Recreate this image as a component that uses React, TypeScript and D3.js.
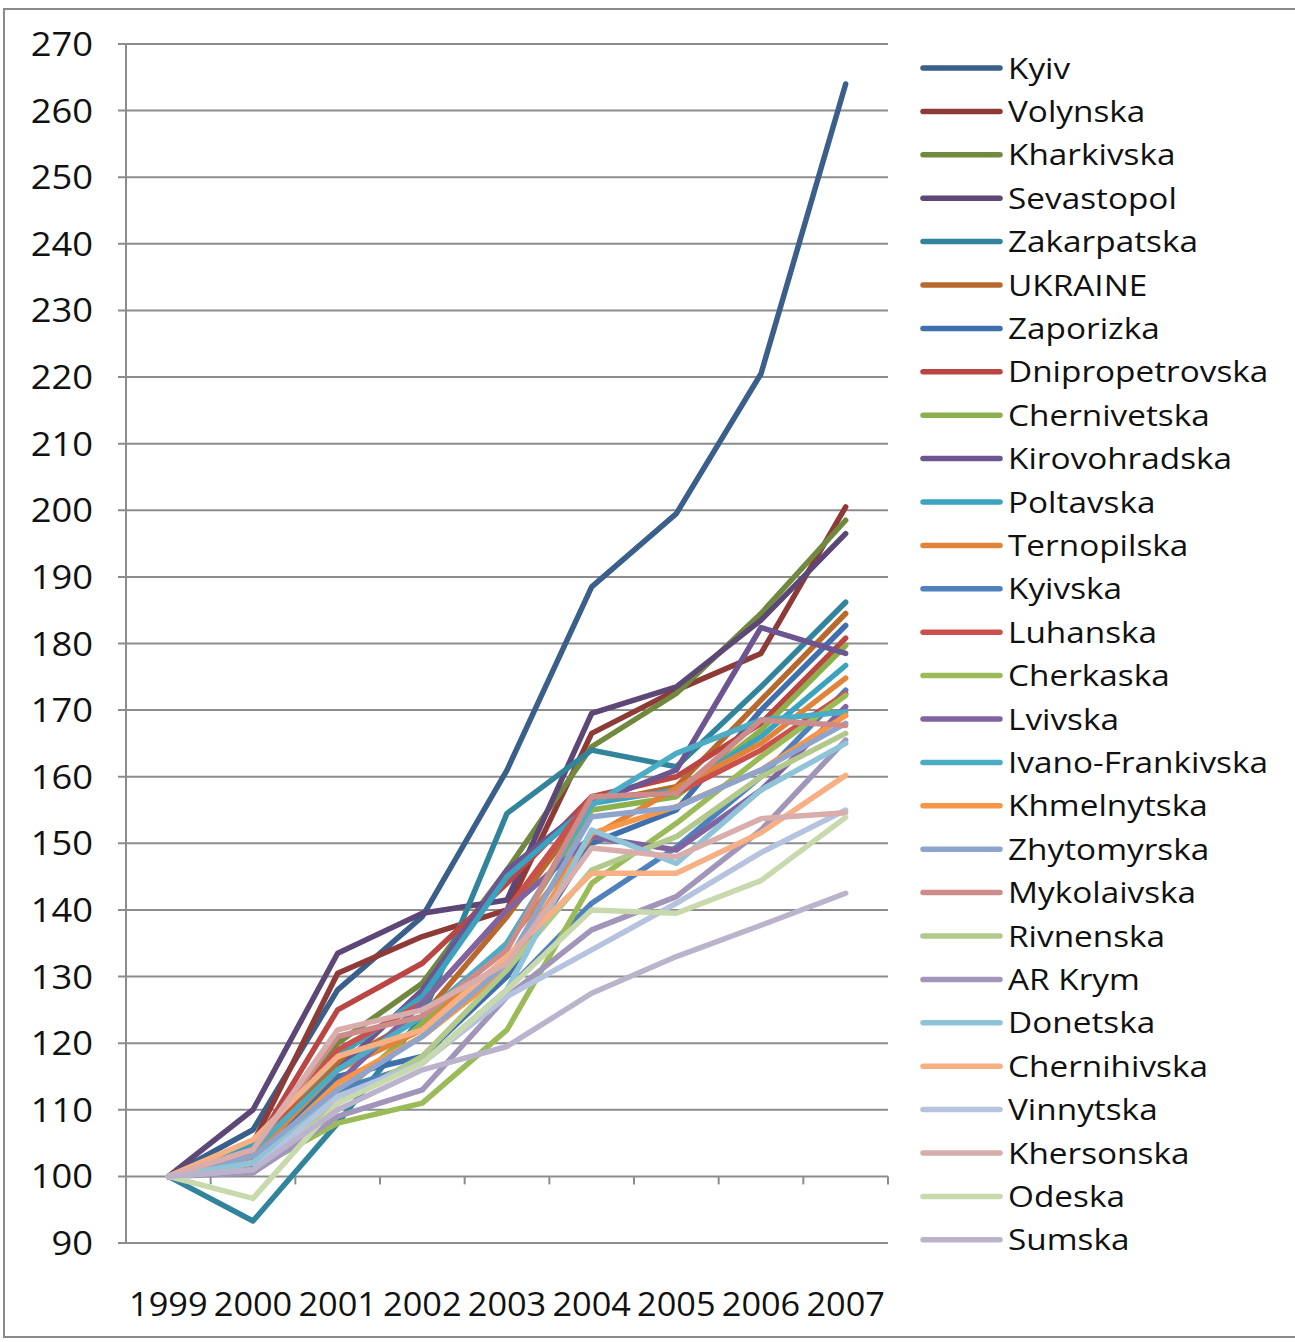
import React from "react";
import * as d3 from "d3";

const years = ["1999", "2000", "2001", "2002", "2003", "2004", "2005", "2006", "2007"];
const yTicks = [90, 100, 110, 120, 130, 140, 150, 160, 170, 180, 190, 200, 210, 220, 230, 240, 250, 260, 270];

const regions = [
  "Kyiv", "Volynska", "Kharkivska", "Sevastopol", "Zakarpatska", "UKRAINE", "Zaporizka",
  "Dnipropetrovska", "Chernivetska", "Kirovohradska", "Poltavska", "Ternopilska", "Kyivska",
  "Luhanska", "Cherkaska", "Lvivska", "Ivano-Frankivska", "Khmelnytska", "Zhytomyrska",
  "Mykolaivska", "Rivnenska", "AR Krym", "Donetska", "Chernihivska", "Vinnytska",
  "Khersonska", "Odeska", "Sumska",
];

const colors = [
  "#3A5F8B", "#8E3B38", "#71893F", "#5C4776", "#31849B", "#B86A2C", "#3F6FAD",
  "#BB4542", "#8DB04E", "#6C5591", "#3CA3BE", "#E1843A", "#4F81BD",
  "#C9504C", "#9BBB59", "#8064A2", "#4BACC6", "#F79646", "#8EA4CC",
  "#CD8C8A", "#B2C98B", "#A195BA", "#8FC3D7", "#F6B084", "#B6C3DE",
  "#D8ADAC", "#C8D9AE", "#BBB3CC",
];

const kyiv = [100, 107, 128, 139, 161, 188.5, 199.5, 220.5, 264];
const volynska = [100, 105, 130.5, 136, 140, 166.5, 173, 178.5, 200.5];
const kharkivska = [100, 103, 120, 129, 146, 164.5, 172.5, 184.5, 198.5];
const sevastopol = [100, 110, 133.5, 139.5, 141.5, 169.5, 173.5, 183.5, 196.5];
const zakarpatska = [100, 93.3, 108, 124, 154.5, 164, 161.5, 173.5, 186.2];
const ukraine = [100, 104, 117, 124, 139, 156, 158.5, 171.5, 184.5];
const zaporizka = [100, 103, 115, 118, 130, 150, 155, 170, 182.7];
const dnipropetrovska = [100, 104, 125, 132, 144, 157, 160, 168, 180.8];
const chernivetska = [100, 102, 112, 123, 135, 155, 157, 167, 179.7];
const kirovohradska = [100, 103, 116, 128, 146, 156, 161, 182.4, 178.5];
const poltavska = [100, 105, 118, 127, 145, 156, 158, 166, 176.7];
const ternopilska = [100, 103, 116, 122, 135, 151, 158.3, 165, 174.8];
const kyivska = [100, 102, 113, 117, 128, 141, 149.4, 160, 173];
const luhanska = [100, 104, 119, 126, 140, 157, 157.5, 164, 172.5];
const cherkaska = [100, 101, 108, 111, 122, 144, 153, 163, 172.2];
const lvivska = [100, 101.5, 114, 126, 140, 151, 149, 158, 170.5];
const ivanoFrankivska = [100, 104, 116, 124, 135, 155.7, 163.5, 168.5, 169.7];
const khmelnytska = [100, 102, 114, 121, 131, 151.5, 155.5, 161, 169.2];
const zhytomyrska = [100, 103, 113, 121, 132, 154, 155.4, 161, 168];
const mykolaivska = [100, 104, 121, 124, 134, 157, 157.5, 168.5, 167.7];
const rivnenska = [100, 102, 111, 118, 131, 146, 151, 160, 166.5];
const arKrym = [100, 100.5, 109, 113, 127, 137, 142, 152, 165.5];
const donetska = [100, 102, 112, 117, 128, 152, 147, 158, 165];
const chernihivska = [100, 105.5, 118, 122, 133, 145.5, 145.5, 151.6, 160.2];
const vinnytska = [100, 101, 112, 117, 127, 134, 141, 148.6, 155];
const khersonska = [100, 104, 122, 125, 132, 149.3, 148, 153.7, 154.6];
const odeska = [100, 96.7, 111, 117, 128, 140, 139.5, 144.4, 153.9];
const sumska = [100, 101, 110, 116, 119.5, 127.5, 133, 137.7, 142.5];

const seriesValues = [
  kyiv, volynska, kharkivska, sevastopol, zakarpatska, ukraine, zaporizka,
  dnipropetrovska, chernivetska, kirovohradska, poltavska, ternopilska, kyivska,
  luhanska, cherkaska, lvivska, ivanoFrankivska, khmelnytska, zhytomyrska,
  mykolaivska, rivnenska, arKrym, donetska, chernihivska, vinnytska,
  khersonska, odeska, sumska,
];

const W = 1295;
const H = 1342;
const plotLeft = 126;
const plotRight = 888;
const plotTop = 44;
const plotBottom = 1243;
const FONT = "'Open Sans', 'DejaVu Sans', sans-serif";

export default function App() {
  const y = d3.scaleLinear().domain([90, 270]).range([plotBottom, plotTop]);
  const x = d3.scaleBand<string>().domain(years).range([plotLeft, plotRight]).padding(0);
  const bw = x.bandwidth();
  const cx = (yr: string) => (x(yr) as number) + bw / 2;
  const line = d3
    .line<number>()
    .x((_, i) => cx(years[i]))
    .y((v) => y(v));

  const axisY = y(100);
  const legendX0 = 923;
  const legendX1 = 1000;
  const legendTop = 68;
  const legendStep = 43.4;

  return (
    <svg
      width={W}
      height={H}
      viewBox={`0 0 ${W} ${H}`}
      style={{ position: "absolute", left: 0, top: 0, background: "#fff" }}
    >
      <rect x={0} y={0} width={W} height={H} fill="#ffffff" />
      <rect x={4} y={9} width={W + 10} height={1328} fill="none" stroke="#8a8a8a" strokeWidth={2} />

      {yTicks.map((t) => (
        <line
          key={"g" + t}
          x1={plotLeft - 8}
          x2={plotRight}
          y1={y(t)}
          y2={y(t)}
          stroke="#8c8c8c"
          strokeWidth={2}
        />
      ))}
      <line x1={plotLeft} x2={plotLeft} y1={plotTop} y2={plotBottom} stroke="#8c8c8c" strokeWidth={2} />
      {years.concat(["end"]).map((yr, i) => (
        <line
          key={"xt" + i}
          x1={plotLeft + i * bw}
          x2={plotLeft + i * bw}
          y1={axisY}
          y2={axisY + 8}
          stroke="#8c8c8c"
          strokeWidth={2}
        />
      ))}

      {yTicks.map((t) => (
        <text
          key={"yl" + t}
          transform={`translate(93,${y(t) + 12}) scale(1.1,1)`}
          textAnchor="end"
          fontFamily={FONT}
          fontSize={33}
          fill="#111"
        >
          {t}
        </text>
      ))}
      {years.map((yr) => (
        <text
          key={"xl" + yr}
          transform={`translate(${cx(yr)},1316) scale(1.04,1)`}
          textAnchor="middle"
          fontFamily={FONT}
          fontSize={33}
          fill="#111"
        >
          {yr}
        </text>
      ))}

      {seriesValues.map((vals, i) => (
        <path
          key={"s" + i}
          d={line(vals) as string}
          fill="none"
          stroke={colors[i]}
          strokeWidth={5.5}
          strokeLinejoin="round"
          strokeLinecap="round"
        />
      ))}

      {regions.map((name, i) => {
        const ly = legendTop + i * legendStep;
        return (
          <g key={"lg" + i}>
            <line
              x1={legendX0}
              x2={legendX1}
              y1={ly}
              y2={ly}
              stroke={colors[i]}
              strokeWidth={5.5}
              strokeLinecap="round"
            />
            <text
              transform={`translate(1008,${ly + 10.5}) scale(1.13,1)`}
              fontFamily={FONT}
              fontSize={29.5}
              fill="#111"
            >
              {name}
            </text>
          </g>
        );
      })}
    </svg>
  );
}
